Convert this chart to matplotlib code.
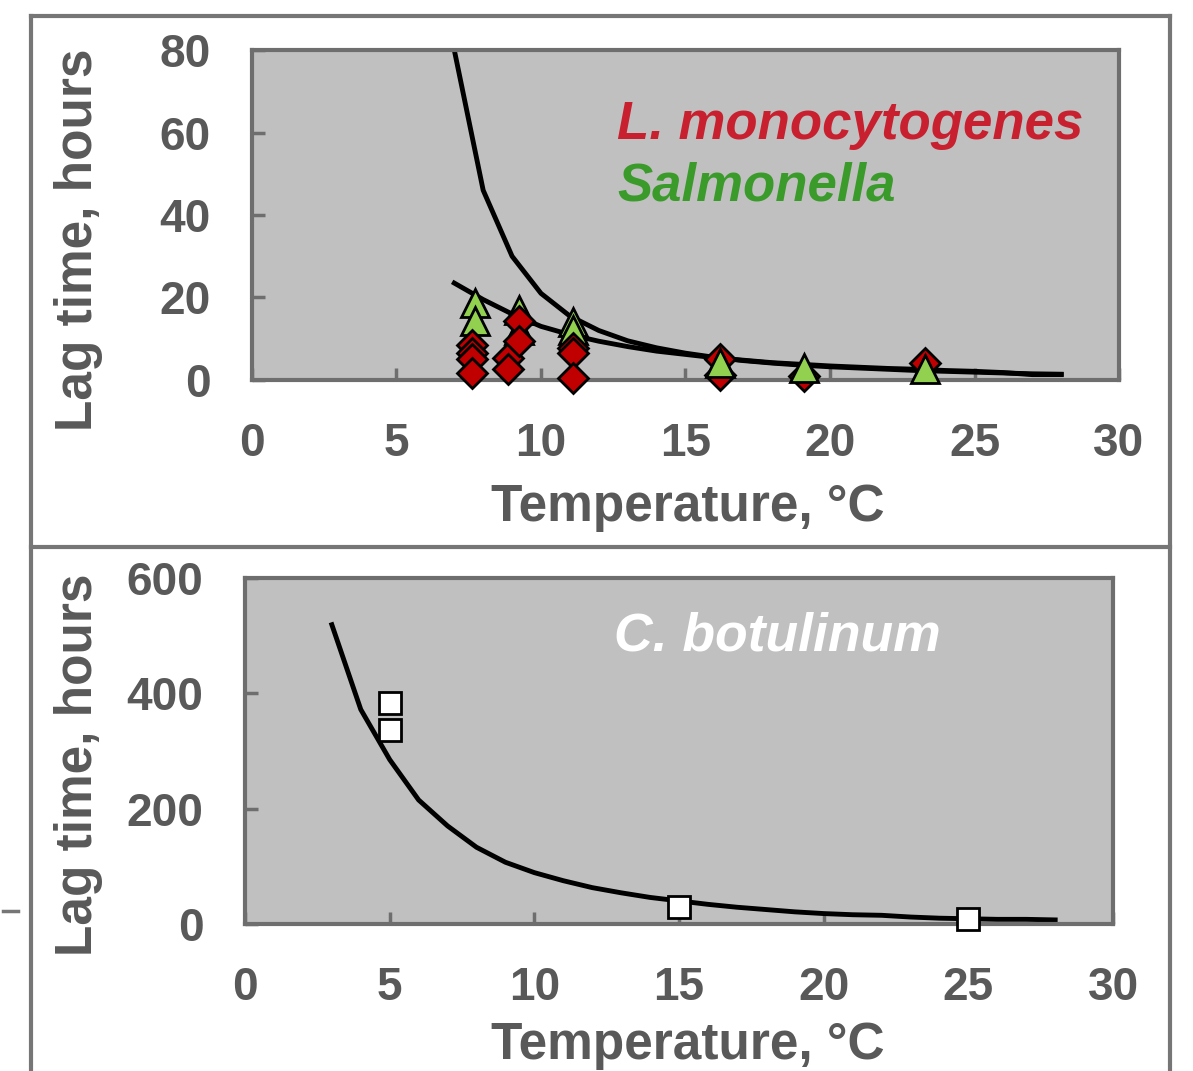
import numpy as np
import matplotlib
matplotlib.use('Agg')
import matplotlib.pyplot as plt
from matplotlib.lines import Line2D

plt.rcParams['font.family'] = ['Liberation Sans', 'DejaVu Sans']
plt.rcParams['font.weight'] = 'bold'
plt.rcParams['axes.labelweight'] = 'bold'

# top panel: model curves (temperature, lag time h)
curve_temp = [7, 8, 9, 10, 11, 12, 13, 14, 15, 16, 17, 18, 19, 20, 21, 22, 23, 24, 25, 26, 27, 28]
curve_steep = [80, 46, 30, 21, 15.5, 12, 9.5, 7.8, 6.5, 5.5, 4.7, 4.1, 3.6, 3.2, 2.9, 2.6, 2.3, 2.1, 1.9, 1.7, 1.5, 1.4]
curve_shallow = [23.5, 19.5, 16, 13, 11, 9.4, 8.1, 7, 6.2, 5.4, 4.8, 4.2, 3.8, 3.4, 3.1, 2.8, 2.6, 2.3, 2.1, 1.8, 1.3, 1.3]

# Salmonella observations
salm_cold_x = [7.7, 7.7, 9.25, 9.25, 11.1, 11.1]
salm_cold_y = [18.6, 14.2, 17, 12, 14, 12]
salm_warm_x = [16.2, 19.1, 23.3]
salm_warm_y = [4.2, 2.8, 2.6]

# L. monocytogenes observations
list_cold_x = [7.6, 7.6, 7.6, 7.6, 8.85, 8.85, 9.25, 9.25, 11.1, 11.1, 11.1]
list_cold_y = [8.5, 6.5, 5.0, 1.8, 5.4, 2.7, 14.4, 9.5, 7.8, 6.6, 0.5]
list_warm_x = [16.2, 16.2, 19.1, 23.3]
list_warm_y = [5.0, 1.2, 1.0, 4.0]

# bottom panel: C. botulinum
bot_curve_temp = [3, 4, 5, 6, 7, 8, 9, 10, 11, 12, 13, 14, 15, 16, 17, 18, 19, 20, 21, 22, 23, 24, 25, 26, 27, 28]
bot_curve_lag = [519, 372, 285, 215, 170, 133, 107, 89, 75, 63, 54, 46, 40, 34, 29, 25, 21, 18, 16, 15, 12, 10, 9, 8, 8, 7]
bot_obs_x = [5, 5, 15, 25]
bot_obs_y = [383, 336, 29, 8]

x_ticks = [0, 5, 10, 15, 20, 25, 30]

text_gray = '#595959'
spine_gray = '#6e6e6e'
frame_gray = '#767676'

fig = plt.figure(figsize=(11.93, 10.71), dpi=100)

def style_axes(ax, ymax, ystep, ylab_xy, xlab_xy):
    ax.set_facecolor('#c0c0c0')
    for s in ax.spines.values():
        s.set_color(spine_gray)
        s.set_linewidth(3)
    ax.set_xlim(0, 30)
    ax.set_ylim(0, ymax)
    ax.set_xticks(x_ticks)
    ax.set_yticks(np.arange(0, ymax + 1, ystep))
    ax.tick_params(direction='in', length=9, width=2.5, color=spine_gray,
                   labelsize=33, labelcolor=text_gray, pad=30)
    ax.set_xlabel('Temperature, °C', fontsize=37, color=text_gray)
    ax.set_ylabel('Lag time, hours', fontsize=37, color=text_gray)
    ax.yaxis.set_label_coords(*ylab_xy)
    ax.xaxis.set_label_coords(*xlab_xy)
    ax.xaxis.label.set_va('center')
    ax.yaxis.label.set_va('center')

ax1 = fig.add_axes([0.2112, 0.6452, 0.7268, 0.3081])
style_axes(ax1, 80, 20, (-0.2, 0.424), (0.503, -0.385))
ax1.plot(curve_temp, curve_steep, color='black', lw=3.5, zorder=2)
ax1.plot(curve_temp, curve_shallow, color='black', lw=3.5, zorder=2)
tri = dict(marker='^', ms=20, mfc='#92d050', mec='black', mew=2, ls='none', clip_on=False)
dia = dict(marker='D', ms=15, mfc='#c00000', mec='black', mew=2, ls='none', clip_on=False)
ax1.plot(salm_cold_x, salm_cold_y, zorder=3, **tri)
ax1.plot(list_cold_x, list_cold_y, zorder=4, **dia)
ax1.plot(list_warm_x, list_warm_y, zorder=3, **dia)
ax1.plot(salm_warm_x, salm_warm_y, zorder=4, **tri)
ax1.text(0.421, 0.773, 'L. monocytogenes', transform=ax1.transAxes, fontsize=38,
         style='italic', color='#c8202f', va='center')
ax1.text(0.421, 0.585, 'Salmonella', transform=ax1.transAxes, fontsize=38,
         style='italic', color='#3a9b2b', va='center')

ax2 = fig.add_axes([0.2054, 0.1373, 0.7276, 0.323])
style_axes(ax2, 600, 200, (-0.192, 0.46), (0.51, -0.35))
ax2.plot(bot_curve_temp, bot_curve_lag, color='black', lw=3.5, zorder=2)
ax2.plot(bot_obs_x, bot_obs_y, marker='s', ms=16, mfc='white', mec='black', mew=2,
         ls='none', zorder=3, clip_on=False)
ax2.text(0.425, 0.832, 'C. botulinum', transform=ax2.transAxes, fontsize=38.5,
         style='italic', color='white', va='center')

# outer frame lines (pixel coords converted to figure fraction)
W, H = 1193.0, 1071.0
def fline(x0, y0, x1, y1, lw=3):
    fig.add_artist(Line2D([x0 / W, x1 / W], [1 - y0 / H, 1 - y1 / H], color=frame_gray, lw=lw))

fline(31, 16, 1170, 16)
fline(31, 547, 1170, 547)
fline(31, 16, 31, 1071)
fline(1170, 16, 1170, 1071)
fline(3, 911, 18, 911, lw=2.5)

fig.savefig('out.png', dpi=100)
